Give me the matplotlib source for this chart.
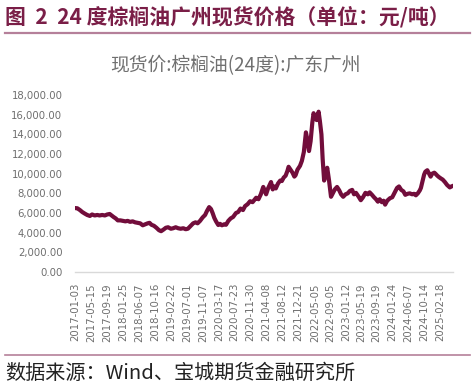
import matplotlib
matplotlib.use("Agg")
import matplotlib.pyplot as plt
from matplotlib.ticker import FuncFormatter
import pandas as pd

plt.rcParams['font.family'] = ['Noto Sans CJK SC', 'DejaVu Sans']

title = "图  2  24 度棕榈油广州现货价格（单位：元/吨）"
series_name = "现货价:棕榈油(24度):广东广州"
source = "数据来源：Wind、宝城期货金融研究所"

dates = [
    "2017-01-03", "2017-01-20", "2017-02-10", "2017-03-01", "2017-03-20", "2017-04-10",
    "2017-05-02", "2017-05-20", "2017-06-10", "2017-07-01", "2017-07-20", "2017-08-10",
    "2017-09-01", "2017-09-20", "2017-10-10", "2017-10-25", "2017-11-10", "2017-11-28",
    "2017-12-15", "2018-01-05", "2018-01-25", "2018-02-15", "2018-03-05", "2018-03-25",
    "2018-04-15", "2018-05-05", "2018-05-25", "2018-06-15", "2018-07-06", "2018-07-25",
    "2018-08-15", "2018-08-30", "2018-09-15", "2018-10-05", "2018-10-25", "2018-11-15",
    "2018-12-02", "2018-12-20", "2019-01-10", "2019-01-28", "2019-02-20", "2019-03-10",
    "2019-03-31", "2019-04-20", "2019-05-10", "2019-06-01", "2019-06-20", "2019-07-08",
    "2019-07-28", "2019-08-20", "2019-09-08", "2019-09-25", "2019-10-15", "2019-11-05",
    "2019-11-25", "2019-12-10", "2019-12-28", "2020-01-12", "2020-01-25", "2020-02-08",
    "2020-02-22", "2020-03-11", "2020-03-25", "2020-04-10", "2020-04-28", "2020-05-13",
    "2020-06-01", "2020-06-20", "2020-07-10", "2020-08-02", "2020-08-20", "2020-09-08",
    "2020-09-28", "2020-10-15", "2020-11-05", "2020-11-25", "2020-12-15", "2021-01-13",
    "2021-02-01", "2021-02-20", "2021-03-12", "2021-03-25", "2021-04-04", "2021-04-20",
    "2021-05-14", "2021-05-28", "2021-06-10", "2021-06-22", "2021-07-10", "2021-07-28",
    "2021-08-10", "2021-08-25", "2021-09-10", "2021-09-25", "2021-10-04", "2021-10-20",
    "2021-11-05", "2021-11-20", "2021-11-30", "2021-12-15", "2022-01-05", "2022-01-20",
    "2022-02-05", "2022-02-22", "2022-03-05", "2022-03-19", "2022-04-01", "2022-04-15",
    "2022-04-25", "2022-05-08", "2022-05-20", "2022-06-05", "2022-06-15", "2022-06-28",
    "2022-07-08", "2022-07-20", "2022-08-01", "2022-08-14", "2022-08-28", "2022-09-14",
    "2022-09-28", "2022-10-15", "2022-11-02", "2022-11-20", "2022-12-05", "2022-12-22",
    "2023-01-10", "2023-01-28", "2023-02-15", "2023-03-05", "2023-03-20", "2023-04-05",
    "2023-04-27", "2023-05-14", "2023-06-01", "2023-06-21", "2023-07-10", "2023-07-25",
    "2023-08-13", "2023-08-30", "2023-09-15", "2023-09-30", "2023-10-15", "2023-11-01",
    "2023-11-15", "2023-11-28", "2023-12-15", "2024-01-06", "2024-01-25", "2024-02-10",
    "2024-03-04", "2024-03-20", "2024-04-07", "2024-04-25", "2024-05-10", "2024-05-28",
    "2024-06-15", "2024-07-05", "2024-07-20", "2024-08-04", "2024-08-20", "2024-09-05",
    "2024-09-14", "2024-09-28", "2024-10-10", "2024-10-20", "2024-11-05", "2024-11-20",
    "2024-12-02", "2024-12-15", "2025-01-01", "2025-01-10", "2025-01-25", "2025-02-08",
    "2025-02-25", "2025-03-10", "2025-03-28", "2025-04-15", "2025-05-07", "2025-05-20",
    "2025-05-31",
]
prices = [
    6500, 6480, 6300, 6100, 5950, 5800,
    5700, 5850, 5750, 5800, 5750, 5800,
    5750, 5850, 5900, 5750, 5600, 5450,
    5250, 5250, 5200, 5150, 5200, 5100,
    5150, 5050, 5000, 4950, 4750, 4850,
    4950, 5000, 4800, 4700, 4500, 4250,
    4150, 4300, 4500, 4550, 4400, 4450,
    4550, 4450, 4400, 4450, 4350, 4400,
    4650, 4950, 5050, 4950, 5200, 5550,
    5800, 6200, 6600, 6400, 6000, 5500,
    5150, 4780, 4900, 4750, 4850, 4800,
    5200, 5450, 5600, 6000, 6100, 6450,
    6300, 6700, 6900, 7200, 7100, 7550,
    7400, 7900, 8650, 8200, 7900, 8500,
    9150, 8400, 8700, 8500, 9000, 9300,
    9250, 9600, 9800, 10300, 10700, 10400,
    10100, 9700, 9850, 10400, 10800, 11300,
    12200, 14200, 13500, 12300, 13300, 15200,
    16150, 15700, 15450, 16300, 15400, 14000,
    11500, 9300, 9900, 10600, 9400, 7650,
    8000, 8400, 8650, 8300, 7900, 7650,
    7900, 8000, 8250, 8350, 7900, 8050,
    7650, 7300, 7600, 8050, 7900, 8100,
    7850, 7600, 7400, 7150, 7400, 7100,
    7250, 6850, 7250, 7500, 7600, 8000,
    8550, 8700, 8350, 8200, 7850, 7950,
    8000, 7900, 7950, 7800, 8000, 8300,
    8550, 9300, 9900, 10200, 10350, 10000,
    9700, 10000, 10100, 10000, 9800, 9650,
    9500, 9400, 9150, 8850, 8600, 8700,
    8750,
]
tick_labels = [
    "2017-01-03", "2017-05-15", "2017-09-19", "2018-01-25", "2018-06-07", "2018-10-16",
    "2019-02-22", "2019-07-01", "2019-11-07", "2020-03-17", "2020-07-23", "2020-11-30",
    "2021-04-08", "2021-08-12", "2021-12-21", "2022-05-05", "2022-09-05", "2023-01-12",
    "2023-05-19", "2023-09-19", "2024-01-24", "2024-06-07", "2024-10-14", "2025-02-18",
]
y_ticks = [0, 2000, 4000, 6000, 8000, 10000, 12000, 14000, 16000, 18000]

line_color = "#720D3B"
title_color = "#7A1E47"
rule_color = "#B5809A"
gray = "#6E6E6E"

fig = plt.figure(figsize=(4.75, 3.88), dpi=100)
ax = fig.add_axes([75 / 475, 1 - 272 / 388, (453 - 75) / 475, (272 - 95) / 388])

x = pd.to_datetime(dates)
ax.plot(x, prices, color=line_color, linewidth=3.0, solid_joinstyle="round")

ax.set_ylim(0, 18000)
ax.set_yticks(y_ticks)
ax.yaxis.set_major_formatter(FuncFormatter(lambda v, p: f"{v:,.2f}"))
ax.set_xlim(pd.Timestamp("2017-01-01"), pd.Timestamp("2025-06-02"))
tick_dates = pd.to_datetime(tick_labels)
ax.set_xticks(tick_dates)
ax.set_xticklabels(tick_labels, rotation=90)

for s in ["top", "right", "left"]:
    ax.spines[s].set_visible(False)
ax.spines["bottom"].set_color("#D9D9D9")
ax.spines["bottom"].set_linewidth(1.0)
ax.tick_params(axis="both", length=0, colors=gray, labelsize=7.3)
ax.tick_params(axis="y", pad=9)
ax.tick_params(axis="x", pad=8)
for lab in ax.get_xticklabels() + ax.get_yticklabels():
    lab.set_family(["DejaVu Sans"])
    lab.set_color(gray)

# Series name
fig.text(235 / 475, 1 - 66 / 388, series_name, ha="center", va="center",
         fontsize=13.5, color="#707070")

# Title and rules
fig.text(5 / 475, 1 - 17 / 388, title, ha="left", va="center", fontsize=15,
         fontweight="bold", color=title_color)
fig.add_artist(plt.Line2D([5 / 475, 470 / 475], [1 - 33 / 388, 1 - 33 / 388],
                          color=rule_color, linewidth=1.6))
fig.add_artist(plt.Line2D([5 / 475, 470 / 475], [1 - 355 / 388, 1 - 355 / 388],
                          color=rule_color, linewidth=1.2))
fig.text(5 / 475, 1 - 373 / 388, source, ha="left", va="center", fontsize=14.5,
         color="#222222")

fig.savefig("out.png", dpi=100)
